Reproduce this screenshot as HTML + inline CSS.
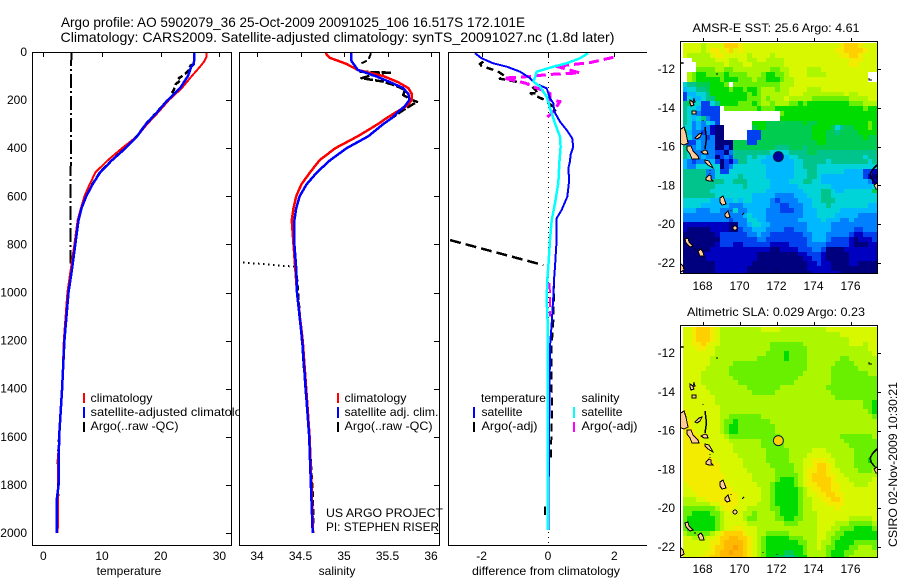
<!DOCTYPE html>
<html>
<head>
<meta charset="utf-8">
<title>Argo profile</title>
<style>
html,body{margin:0;padding:0;background:#fff;}
svg{display:block;}
text{font-family:"Liberation Sans",sans-serif;font-size:12px;fill:#000;}
.title{font-size:14px;}
.crisp{shape-rendering:crispEdges;}
</style>
</head>
<body>
<svg id="chart" width="900" height="580" viewBox="0 0 900 580" xmlns="http://www.w3.org/2000/svg">
<defs>
<clipPath id="clip-t"><rect x="33" y="53" width="198" height="492"/></clipPath>
<clipPath id="clip-s"><rect x="240" y="53" width="199" height="492"/></clipPath>
<clipPath id="clip-d"><rect x="449" y="53" width="198" height="492"/></clipPath>
<clipPath id="clip-m1"><rect x="681" y="42" width="196" height="231"/></clipPath>
<clipPath id="clip-m2"><rect x="681" y="326" width="196" height="231"/></clipPath>
<g id="coast" stroke="#000" stroke-width="1" fill="#ffcc99">
<path d="M680 63h4M682 62v2" fill="none"/>
<path d="M690 100l3 2 1-3 1 3-2 1 1 2-3 1-1-3z"/>
<path d="M692 111h4v3h-4z"/>
<path d="M677 131l4-2 3-2 2 6 2 10-4 2-5-2-2-2z"/>
<path d="M695 138l4-4 3-1-2 4-3 2z"/>
<path d="M705 127l1 8 0 7-1 7" fill="none" stroke-width="1.5"/>
<path d="M687 146l4 0 2 5 5 5 1 3-7 0-2-5-3-4z"/>
<path d="M701 152l4-2 2 1 1 3-4 0z"/>
<path d="M705 160l4 1 3 5 1 2-5-3-3-3z"/>
<path d="M710 170v1M710 173v1" fill="none"/>
<path d="M706 178l3-3 2 1 0 3 2 2-4 0-3-1z"/>
<path d="M720 198l3-2 2 5 1 3-4 1-2-3z"/>
<path d="M725 214l3-3 1 3 1 3-3 1-2-2z"/>
<path d="M731 210v1M742 215l2-2" fill="none"/>
<circle cx="735" cy="228" r="2"/>
<path d="M685 239l3-1 1 4 4 4-3 1-4-4z"/>
<path d="M694 249h2M698 251l3-2 2 3 1 4-4 0-1-2z"/>
<path d="M677 264l3-1 3 3 1 4-3 2-3-2z"/>
<path d="M877 165l-4 4-3 5 1 4 4 5" fill="none" stroke-width="1.5"/>
<path d="M874 185l3-2 2 2 0 4-3 0z"/>
<path d="M869 78v2h3M717 73v2M703 120v1M763 268v1M777 270v1" fill="none"/>
</g>
</defs>

<text class="title" x="61" y="27" textLength="464" lengthAdjust="spacingAndGlyphs">Argo profile: AO 5902079_36 25-Oct-2009 20091025_106 16.517S 172.101E</text>
<text class="title" x="60.5" y="42" textLength="554" lengthAdjust="spacingAndGlyphs">Climatology: CARS2009. Satellite-adjusted climatology: synTS_20091027.nc (1.8d later)</text>

<g id="panel-temperature">
<rect class="crisp" x="32.5" y="52.5" width="199" height="493" fill="#fff" stroke="#000"/>
<g id="marks-t" clip-path="url(#clip-t)"></g>
<g id="legend-t">
<rect class="crisp" x="83" y="393" width="2" height="10" fill="#ff0000"/>
<rect class="crisp" x="83" y="407" width="2" height="11" fill="#0000ff"/>
<rect class="crisp" x="83" y="422" width="2" height="10" fill="#000"/>
<text x="90.5" y="402" textLength="62" lengthAdjust="spacingAndGlyphs">climatology</text>
<text x="90.5" y="416" textLength="165" lengthAdjust="spacingAndGlyphs">satellite-adjusted climatology</text>
<text x="90.5" y="430" textLength="88" lengthAdjust="spacingAndGlyphs">Argo(..raw -QC)</text>
</g>
<text x="129" y="575" text-anchor="middle">temperature</text>
</g>

<g id="panel-salinity">
<rect class="crisp" x="239.5" y="52.5" width="200" height="493" fill="#fff" stroke="#000"/>
<g id="marks-s" clip-path="url(#clip-s)"></g>
<g>
<rect class="crisp" x="337" y="393" width="2" height="10" fill="#ff0000"/>
<rect class="crisp" x="337" y="407" width="2" height="11" fill="#0000ff"/>
<rect class="crisp" x="337" y="422" width="2" height="10" fill="#000"/>
<text x="344.5" y="402" textLength="62" lengthAdjust="spacingAndGlyphs">climatology</text>
<text x="344.5" y="416" textLength="94" lengthAdjust="spacingAndGlyphs">satellite adj. clim.</text>
<text x="344.5" y="430" textLength="88" lengthAdjust="spacingAndGlyphs">Argo(..raw -QC)</text>
</g>
<text x="326" y="517" textLength="117" lengthAdjust="spacingAndGlyphs">US ARGO PROJECT</text>
<text x="326" y="531" textLength="113" lengthAdjust="spacingAndGlyphs">PI: STEPHEN RISER</text>
<text x="337" y="575" text-anchor="middle">salinity</text>
</g>

<g id="panel-diff">
<path class="crisp" d="M647 52.5H448.5V545.5H647" fill="#fff" stroke="#000"/>
<g id="marks-d" clip-path="url(#clip-d)"></g>
<g>
<rect class="crisp" x="473" y="407" width="2" height="11" fill="#0000ff"/>
<rect class="crisp" x="473" y="422" width="2" height="10" fill="#000"/>
<rect class="crisp" x="573" y="407" width="2" height="11" fill="#00ffff"/>
<rect class="crisp" x="573" y="422" width="2" height="10" fill="#ff00ff"/>
<text x="481" y="402" textLength="65" lengthAdjust="spacingAndGlyphs">temperature</text>
<text x="481.5" y="416" textLength="41" lengthAdjust="spacingAndGlyphs">satellite</text>
<text x="481.5" y="430" textLength="56" lengthAdjust="spacingAndGlyphs">Argo(-adj)</text>
<text x="581.5" y="402" textLength="38" lengthAdjust="spacingAndGlyphs">salinity</text>
<text x="581.5" y="416" textLength="41" lengthAdjust="spacingAndGlyphs">satellite</text>
<text x="581.5" y="430" textLength="56" lengthAdjust="spacingAndGlyphs">Argo(-adj)</text>
</g>
<text x="546" y="575" text-anchor="middle" textLength="148" lengthAdjust="spacingAndGlyphs">difference from climatology</text>
</g>

<g id="map-sst">
<g id="cells-m1" class="crisp" clip-path="url(#clip-m1)"></g>
<use href="#coast" clip-path="url(#clip-m1)" class="crisp"/>
<g id="marker-m1"></g>
<rect class="crisp" x="680.5" y="41.5" width="197" height="232" fill="none" stroke="#000"/>
<g id="ticks-m1"></g>
<text x="776" y="32" text-anchor="middle" textLength="167" lengthAdjust="spacingAndGlyphs">AMSR-E SST: 25.6 Argo: 4.61</text>
</g>

<g id="map-sla">
<g id="cells-m2" class="crisp" clip-path="url(#clip-m2)"></g>
<g clip-path="url(#clip-m2)"><use href="#coast" y="284" class="crisp"/></g>
<g id="marker-m2"></g>
<rect class="crisp" x="680.5" y="325.5" width="197" height="232" fill="none" stroke="#000"/>
<g id="ticks-m2"></g>
<text x="776" y="316" text-anchor="middle" textLength="178" lengthAdjust="spacingAndGlyphs">Altimetric SLA: 0.029 Argo: 0.23</text>
</g>

<text transform="translate(897,547) rotate(-90)" textLength="165" lengthAdjust="spacingAndGlyphs">CSIRO 02-Nov-2009 10:30:21</text>
</svg>

<script>
// ---- axis tick values ----
var depthTicks = [0, 200, 400, 600, 800, 1000, 1200, 1400, 1600, 1800, 2000];
var tempTicks = [0, 10, 20, 30];
var salTicks = [34, 34.5, 35, 35.5, 36];
var salTickLabels = ['34', '34.5', '35', '35.5', '36'];
var diffTicks = [-2, 0, 2];
var lonTicks = [168, 170, 172, 174, 176];
var latTicks = [-12, -14, -16, -18, -20, -22];

// ---- temperature panel ----
var climDepth = [0, 20, 40, 61, 100, 150, 200, 250, 300, 350, 400, 450, 500, 550, 600, 650, 700, 800, 900, 1000, 1200, 1400, 1600, 1700, 1800, 2000];
var climTemp = [27.8, 27.8, 27.4, 26.7, 25.3, 23.6, 21.4, 19.6, 17.7, 16, 13.4, 11, 8.9, 7.9, 7, 6.4, 5.85, 5.3, 4.7, 4.1, 3.5, 3.2, 2.75, 2.45, 2.55, 2.45];
var satDepth = [0, 20, 50, 61, 100, 150, 200, 250, 300, 350, 400, 450, 500, 550, 600, 650, 700, 800, 900, 1000, 1200, 1400, 1600, 1800, 1860, 2000];
var satTemp = [25.7, 25.7, 25.65, 25.2, 24.65, 23.3, 21.2, 19.4, 17.5, 16, 14, 11.7, 9.7, 8.4, 7.3, 6.5, 6, 5.45, 4.9, 4.3, 3.6, 3.2, 2.7, 2.6, 2.3, 2.3];
var argoTempRawDepth = [0, 880];
var argoTempRaw = [4.77, 4.6];
var argoTempDepth = [50, 56, 66, 72, 94, 104, 108, 115, 135, 160, 180];
var argoTemp = [25.7, 25.1, 24.9, 25, 24, 23.4, 23.1, 23.5, 22.5, 22.2, 21.6];
var argoTempDeepDepth = [200, 250, 300, 350, 400, 450, 500, 550, 600, 650, 700, 800, 900, 1000, 1200, 1400, 1600, 1700, 1850, 2000];
var argoTempDeep = [21.1, 19.3, 17.4, 15.9, 13.9, 11.6, 9.6, 8.3, 7.2, 6.4, 5.9, 5.4, 4.85, 4.3, 3.6, 3.25, 2.65, 2.45, 2.55, 2.4];

// ---- salinity panel ----
var climSalDepth = [0, 10, 25, 35, 50, 75, 100, 125, 150, 175, 200, 225, 250, 275, 300, 350, 400, 450, 500, 550, 600, 650, 700, 800, 900, 1000, 1200, 1400, 1600, 1800, 2000];
var climSal = [34.79, 34.8, 34.84, 34.92, 35.03, 35.16, 35.45, 35.62, 35.74, 35.78, 35.78, 35.72, 35.6, 35.49, 35.39, 35.16, 34.9, 34.72, 34.61, 34.51, 34.45, 34.42, 34.4, 34.42, 34.44, 34.46, 34.525, 34.565, 34.605, 34.625, 34.645];
var satSalDepth = [0, 30, 40, 60, 75, 100, 125, 150, 175, 200, 225, 250, 275, 300, 350, 400, 450, 500, 550, 600, 650, 700, 800, 900, 1000, 1200, 1400, 1600, 1800, 2000];
var satSal = [35.08, 35.08, 35.09, 35.13, 35.16, 35.36, 35.53, 35.68, 35.74, 35.75, 35.7, 35.62, 35.55, 35.45, 35.28, 35.03, 34.84, 34.69, 34.57, 34.49, 34.45, 34.43, 34.43, 34.45, 34.46, 34.52, 34.56, 34.6, 34.62, 34.64];
var argoSalTopDepth = [5, 33, 47];
var argoSalTop = [35.31, 35.28, 35.2];
var argoSalDepth = [82, 86, 88, 109, 123, 141, 158, 179, 200, 207, 233, 269, 290];
var argoSal = [35.18, 35.55, 35.4, 35.2, 35.45, 35.6, 35.7, 35.68, 35.78, 35.84, 35.72, 35.57, 35.49];
var argoSalDotDepth = [875, 893];
var argoSalDot = [33.84, 34.44];
var argoSalDeepDepth = [893, 1000, 1300, 1700, 1850, 1960];
var argoSalDeep = [34.45, 34.475, 34.535, 34.62, 34.645, 34.65];

// ---- difference panel ----
var diffSatTempDepth = [5, 26, 47, 61, 82, 109, 130, 151, 193, 213, 248, 290, 324, 359, 394, 428, 456, 484, 532, 602, 657, 692, 782, 893, 948, 1017, 1128, 1225, 1503, 1988];
var diffSatTemp = [-2.2, -2, -1.65, -1.24, -0.84, -0.54, -0.39, -0.04, 0.06, 0.16, 0.19, 0.36, 0.56, 0.73, 0.76, 0.68, 0.66, 0.61, 0.64, 0.58, 0.41, 0.26, 0.26, 0.21, 0.18, 0.16, 0.11, 0.06, 0.04, 0.01];
var diffSatSalDepth = [5, 26, 47, 61, 82, 103, 123, 144, 186, 234, 297, 352, 394, 463, 546, 629, 699, 782, 893, 948, 1031, 1128, 1364, 1988];
var diffSatSal = [1.21, 0.96, 0.56, 0.16, -0.34, -0.39, -0.44, -0.24, -0.04, 0.06, 0.21, 0.36, 0.38, 0.34, 0.31, 0.21, 0.11, 0.06, 0.01, -0.02, -0.04, -0.01, -0.01, -0.01];
var diffArgoTempTopDepth = [40, 50, 58, 72, 77, 100, 111, 134, 172, 172, 197, 238, 248];
var diffArgoTempTop = [-1.95, -2.05, -2, -1.7, -1.55, -1.3, -1.45, -0.54, -0.29, -0.52, -0.14, 0.26, 0.16];
var diffArgoTempSlopeDepth = [782, 886];
var diffArgoTempSlope = [-2.95, -0.14];
var diffArgoTempDeepDepth = [950, 1100, 1250, 1500, 1700];
var diffArgoTempDeep = [0.18, 0.17, 0.1, 0.12, 0.08];
var diffArgoTempLowDepth = [1890, 1925];
var diffArgoTempLow = [-0.09, -0.09];
var diffArgoSalDepth = [22, 44, 58, 58, 87, 93, 105, 108, 129, 150, 172, 199, 206, 248, 271];
var diffArgoSal = [1.97, 1.27, 0.36, 0.2, 0.96, 0.06, -0.84, -1.35, -0.69, -0.33, 0.06, 0.06, 0.36, 0.16, -0.02];
var diffArgoSalDeepDepth = [960, 1100];
var diffArgoSalDeep = [0.05, 0.06];

// ---- float position ----
var floatLon = [172.101];
var floatLat = [-16.517];

// ---- map levels (colour index; -1 = no data) ----
var sstLevels = [
[11,11,11,11,10,11,11,11,11,13,13,13,12,11,11,11,11,11,11,11,11,11,11,11,11,11,11,11,11,11,11,11,11,11,12,13,13,13,12,11,11,11],
[11,11,11,11,10,11,12,12,11,12,13,11,12,11,11,11,11,11,11,11,11,11,11,11,11,11,11,11,11,11,11,11,11,12,12,13,13,13,13,12,11,11],
[11,10,10,10,10,10,11,12,12,11,11,11,11,11,10,11,11,11,11,10,11,11,11,11,11,11,11,11,11,11,11,11,11,11,12,12,13,13,12,11,11,11],
[-1,-1,10,10,10,10,10,11,11,11,10,10,11,11,10,10,11,11,10,10,10,10,11,11,11,11,11,11,11,11,11,11,11,11,11,11,12,12,12,11,11,11],
[-1,-1,-1,10,10,10,10,10,10,11,10,10,10,11,11,10,10,10,10,10,10,10,11,11,11,11,11,11,11,11,11,11,11,11,11,11,12,12,11,11,11,11],
[-1,-1,-1,9,9,9,9,10,10,9,9,10,10,10,10,10,10,10,10,9,9,10,10,11,11,11,11,10,10,10,11,11,11,11,11,11,11,11,11,11,11,11],
[-1,10,9,8,8,9,9,9,9,8,9,9,9,9,10,10,10,9,8,8,9,9,10,11,11,11,11,10,10,10,10,11,11,11,11,11,11,11,11,11,-1,-1],
[-1,10,9,8,8,8,8,8,9,8,8,8,9,9,9,10,9,9,8,8,8,9,10,10,11,11,11,11,11,11,11,11,11,11,11,11,11,11,11,11,-1,-1],
[5,6,6,7,7,7,8,8,8,9,-1,9,9,9,9,9,9,9,9,9,9,10,10,10,11,11,11,11,11,11,11,11,11,11,11,11,11,11,11,11,11,11],
[4,5,5,6,6,7,8,8,8,8,9,8,8,9,8,8,9,10,10,10,9,10,10,11,11,11,11,10,10,10,11,11,11,11,11,11,11,11,11,11,11,11],
[2,4,4,5,5,6,8,8,8,8,8,8,8,8,9,8,9,10,10,10,10,10,10,11,11,11,10,10,10,10,10,10,10,10,10,11,10,10,11,11,11,11],
[2,5,4,4,5,6,6,8,8,8,8,8,8,8,9,9,9,10,9,10,10,10,11,10,10,10,10,10,9,9,9,9,9,9,9,9,10,10,10,10,11,11],
[6,7,5,5,2,2,5,6,8,8,8,8,9,9,9,8,9,10,10,9,10,10,10,9,9,8,9,8,8,8,8,8,8,8,8,8,9,9,9,10,10,10],
[6,5,5,4,2,2,2,2,-1,9,9,9,9,9,9,9,8,9,9,9,8,8,8,8,8,8,8,8,8,8,8,8,8,8,8,8,8,8,8,9,8,8],
[6,5,4,3,2,2,2,2,-1,-1,-1,-1,-1,-1,-1,-1,-1,-1,-1,-1,-1,9,8,8,8,8,8,8,8,8,8,8,8,8,8,8,8,8,8,8,8,8],
[6,5,4,5,6,3,2,2,-1,-1,-1,-1,-1,-1,-1,-1,-1,-1,-1,-1,-1,8,8,8,8,8,8,8,8,8,8,8,8,8,8,8,8,8,8,8,8,8],
[6,5,3,4,3,5,4,2,-1,-1,-1,-1,-1,-1,-1,8,8,8,7,7,7,7,7,7,7,7,8,7,7,8,8,8,8,8,8,8,8,8,8,8,9,8],
[5,5,3,4,3,3,1,0,0,-1,-1,-1,-1,-1,-1,7,8,8,7,7,7,7,7,7,7,7,7,7,8,8,8,8,7,5,6,7,7,8,8,8,9,8],
[7,4,3,3,2,3,1,0,0,-1,-1,-1,-1,-1,2,2,2,7,7,7,7,7,7,7,7,7,7,7,8,8,8,7,7,6,7,7,7,7,8,8,8,8],
[7,5,3,3,3,2,3,0,0,-1,-1,-1,-1,-1,2,2,2,7,7,7,7,7,7,7,7,7,7,7,8,8,8,7,7,7,7,7,7,7,7,8,7,7],
[2,2,2,4,3,3,3,0,0,0,0,7,7,7,2,2,7,7,7,7,7,7,7,7,7,7,7,7,7,8,8,7,7,7,7,7,7,7,7,7,7,7],
[6,3,3,4,3,3,3,0,0,2,0,7,7,7,7,7,7,7,7,7,6,6,6,7,7,7,6,7,7,7,7,7,7,7,7,7,7,7,7,7,7,7],
[6,5,3,3,3,3,3,2,2,0,3,6,6,6,6,6,6,6,6,5,5,5,5,6,6,6,6,7,7,6,6,6,6,6,6,6,6,6,6,6,6,6],
[6,5,5,3,4,3,3,0,2,3,2,6,6,6,5,6,5,5,4,4,4,4,4,5,5,6,6,6,6,6,6,6,6,6,6,6,6,6,6,5,6,6],
[4,3,2,3,3,4,4,2,0,2,1,3,6,6,5,5,5,4,4,4,4,4,4,4,5,5,6,6,6,6,6,5,6,6,6,6,6,6,6,6,5,6],
[4,3,3,5,5,5,5,5,0,2,3,5,5,5,5,5,5,5,4,4,4,4,4,4,5,5,6,6,6,5,5,5,5,5,5,5,5,5,5,5,5,5],
[6,6,6,6,6,3,3,5,2,2,5,5,5,5,5,5,5,5,4,4,4,4,4,4,5,5,5,6,6,5,5,5,5,5,5,4,4,4,4,2,2,1],
[6,6,6,6,6,3,3,5,5,5,5,5,6,5,5,5,5,5,4,4,4,4,4,4,5,5,5,6,6,5,4,4,4,4,4,4,4,4,4,2,1,0],
[6,6,6,6,6,6,6,6,6,5,5,6,6,6,5,5,5,5,5,4,4,4,4,5,5,5,6,6,5,5,4,4,4,4,4,4,4,4,4,4,3,1],
[6,6,6,6,6,6,6,5,5,5,5,5,5,6,5,5,5,5,5,4,4,4,4,4,4,5,5,5,5,5,5,5,4,4,4,4,4,4,4,4,4,5],
[6,6,6,6,6,6,5,5,5,5,5,5,5,5,5,5,5,5,4,4,4,4,4,4,4,4,5,5,5,5,6,6,5,4,4,5,5,5,5,5,5,7],
[6,6,6,6,6,6,6,5,5,5,5,5,5,5,5,4,4,4,4,4,3,3,3,3,4,4,4,5,5,5,6,6,5,5,5,5,5,5,5,5,5,5],
[5,5,5,5,5,5,4,4,4,4,4,5,4,5,5,4,4,4,4,3,2,3,3,3,3,4,4,4,5,5,6,6,6,5,5,5,5,5,5,5,5,5],
[5,5,5,5,4,4,4,4,4,4,3,3,3,4,4,4,4,4,4,3,3,2,2,3,3,3,4,4,5,5,5,6,5,5,5,5,5,5,5,5,4,4],
[4,4,4,3,3,3,4,4,3,3,3,5,3,3,4,4,4,4,3,3,3,2,2,2,3,3,4,4,4,5,5,5,5,5,4,4,4,4,4,4,4,4],
[3,3,3,3,3,3,3,3,3,3,3,3,3,4,5,4,4,4,3,3,3,3,3,3,3,3,4,4,4,5,5,5,5,4,4,4,4,4,3,3,3,3],
[3,3,3,3,3,3,3,3,3,3,2,3,3,3,5,5,4,4,3,3,3,3,3,3,3,4,4,4,4,4,5,4,4,4,3,3,4,3,3,3,3,3],
[1,1,1,1,1,1,1,1,1,1,0,0,3,3,4,5,5,4,4,3,3,3,3,3,3,3,3,4,4,4,4,4,3,3,3,3,3,3,3,3,3,3],
[1,0,0,0,0,0,1,1,1,1,0,0,2,3,3,4,4,4,3,3,3,3,2,2,3,3,3,4,4,4,4,4,3,3,3,3,3,2,2,3,3,3],
[0,0,0,0,0,0,0,1,2,2,2,2,2,2,3,3,4,3,3,2,2,2,2,2,2,2,3,3,4,4,4,3,3,3,3,3,2,1,1,2,2,2],
[0,0,0,0,0,0,0,0,2,2,2,2,2,2,2,2,3,3,2,2,2,2,2,2,2,2,2,3,4,4,4,3,2,2,2,2,1,0,1,1,1,2],
[0,0,0,0,0,0,0,1,2,2,2,1,1,2,2,2,2,2,2,1,1,1,1,2,2,2,2,3,3,3,3,2,2,2,2,2,1,0,0,0,1,1],
[0,0,0,0,0,0,1,1,1,1,1,1,1,1,1,1,1,1,1,0,0,1,1,1,1,2,2,2,3,3,2,0,0,0,0,1,1,1,1,1,1,1],
[0,0,0,0,1,1,1,1,1,1,1,1,1,1,1,1,0,0,0,0,0,0,0,0,0,1,1,2,2,2,1,0,0,0,0,0,1,1,1,1,1,1],
[0,0,0,0,0,1,1,1,1,1,1,1,1,1,1,1,0,0,0,0,0,0,0,0,0,0,1,1,2,2,1,0,0,0,0,0,1,1,1,1,1,1],
[0,0,0,0,0,0,0,1,1,1,1,1,1,1,1,0,0,0,0,0,0,0,0,0,0,0,0,1,1,2,1,1,0,0,0,0,1,1,0,0,0,0],
[0,0,0,0,0,0,0,1,1,1,1,1,1,1,0,0,0,0,0,0,0,0,0,0,0,0,0,1,1,1,1,1,0,0,0,0,0,0,0,0,0,0],
[0,0,0,0,0,0,0,1,1,1,1,1,1,1,0,0,0,0,0,0,0,0,0,0,0,0,0,0,1,1,1,1,1,1,0,0,0,0,0,0,0,0]
];
var slaLevels = [
[11,11,12,13,13,13,12,11,10,10,10,10,10,10,10,10,10,11,11,11,11,10,10,10,10,10,10,10,10,10,10,11,11,11,11,11,11,11,11,11,11,11],
[11,11,12,13,13,13,12,11,10,10,10,10,10,10,10,10,10,10,10,10,10,10,10,10,10,10,10,10,10,10,10,10,10,10,11,11,11,11,11,11,11,11],
[11,11,12,13,13,13,12,11,10,10,10,10,10,10,10,10,10,10,10,10,10,10,10,10,10,10,10,10,10,10,10,10,10,10,10,10,11,11,11,11,11,11],
[11,11,12,12,13,12,11,11,10,10,10,10,10,10,10,10,10,10,10,9,9,9,9,9,9,9,10,10,10,10,10,10,10,10,10,10,11,11,11,10,11,11],
[11,11,11,12,12,11,11,10,10,10,10,10,10,10,10,10,10,10,10,9,9,9,9,9,9,9,9,10,10,10,10,10,10,10,10,10,10,10,10,10,11,11],
[11,11,11,11,11,11,11,10,10,10,10,10,10,10,10,10,10,10,9,9,9,9,8,9,9,9,9,10,10,10,10,10,10,10,10,10,10,10,10,10,10,11],
[11,11,11,11,11,11,10,10,10,10,10,10,10,10,10,10,9,9,9,9,9,9,8,9,9,9,9,10,10,10,10,10,10,10,9,9,10,10,10,10,10,10],
[11,11,11,11,11,11,10,10,10,10,10,9,9,9,9,9,9,9,9,9,9,9,9,9,9,9,9,10,10,10,10,10,10,9,9,9,9,10,10,10,10,10],
[11,11,11,11,11,10,10,10,10,10,9,9,9,9,9,9,9,9,9,9,9,9,9,9,9,9,9,10,10,10,10,10,9,9,9,9,9,9,10,10,10,10],
[11,11,11,11,10,10,10,10,10,10,9,9,9,9,9,9,9,9,9,9,9,9,9,9,9,9,10,10,10,10,10,10,9,9,9,9,9,9,9,9,10,10],
[11,11,11,11,10,10,10,10,10,10,10,9,9,9,9,9,9,9,9,9,9,9,9,9,9,10,10,10,10,10,10,10,9,9,9,9,9,9,9,9,9,9],
[11,11,11,11,10,10,10,10,10,10,10,10,9,9,9,9,9,9,9,9,9,9,9,9,10,10,10,10,10,10,10,10,9,9,9,9,9,9,9,9,9,9],
[11,11,11,11,11,10,10,10,10,10,10,10,10,10,9,9,9,9,9,9,9,10,10,10,10,10,10,10,10,10,10,9,9,9,9,9,9,9,9,9,9,9],
[11,11,11,11,11,11,10,10,10,10,10,10,10,10,10,9,9,9,9,9,10,10,10,10,10,10,10,10,10,10,10,10,9,9,9,9,9,9,9,9,9,9],
[11,11,11,11,11,11,11,10,10,10,10,10,10,10,10,10,10,10,10,10,10,10,10,10,10,10,10,10,10,10,10,10,10,9,9,9,9,9,9,9,9,9],
[11,11,11,11,11,11,11,10,10,10,10,10,10,10,10,10,10,10,10,10,10,10,10,10,10,10,10,10,10,10,10,10,10,10,10,10,10,10,10,9,9,8],
[11,11,11,11,11,11,11,11,10,10,10,10,10,10,10,10,10,10,10,10,10,10,10,10,10,10,10,10,10,10,10,10,10,10,10,10,10,10,10,9,9,8],
[12,11,11,11,11,11,11,11,10,10,10,10,10,10,10,10,10,10,10,10,10,10,10,10,10,10,10,10,10,10,10,10,10,10,10,10,10,10,10,10,9,8],
[12,11,11,11,11,11,11,11,10,10,9,9,9,9,9,9,9,10,10,10,10,10,10,10,10,10,10,10,10,10,10,10,10,10,10,10,10,10,10,10,10,9],
[12,12,11,11,11,11,11,11,10,9,9,8,9,9,9,9,9,9,9,10,10,10,10,10,10,10,10,10,10,10,10,10,10,10,10,10,10,10,10,10,10,10],
[12,12,11,11,11,11,11,11,10,9,8,8,9,9,9,9,9,9,9,9,10,10,10,10,10,10,10,10,10,10,10,10,10,10,10,10,10,10,10,10,10,10],
[12,12,12,11,11,11,11,11,10,9,8,8,9,9,9,9,9,9,9,9,10,10,10,10,10,10,10,10,10,10,10,10,10,10,10,10,10,10,10,10,10,10],
[12,12,12,12,11,11,11,11,11,10,9,9,9,9,9,9,9,9,9,9,9,10,10,10,10,10,10,10,10,10,10,10,10,10,9,9,9,9,9,9,9,10],
[12,12,12,12,11,11,11,11,11,11,10,10,10,10,10,10,10,9,9,9,9,9,10,10,10,10,10,10,10,10,10,10,10,10,10,9,9,9,9,9,9,9],
[12,12,12,12,12,11,11,11,11,11,11,10,10,10,10,10,10,9,9,9,9,9,10,10,10,10,10,10,10,10,10,10,10,10,10,10,9,9,9,9,9,9],
[12,12,12,12,12,12,11,11,11,11,11,10,10,10,10,10,10,10,9,9,9,9,9,10,10,10,10,10,11,11,11,10,10,10,10,10,10,9,9,9,9,9],
[12,12,12,12,12,12,11,11,11,11,11,11,10,10,10,10,10,10,9,9,9,9,9,10,10,10,10,11,11,11,11,11,10,10,10,10,10,9,9,9,9,9],
[12,12,12,12,12,12,12,11,11,11,11,11,11,10,10,10,10,10,9,9,9,9,9,10,10,10,11,11,12,12,12,11,11,10,10,10,10,9,9,9,8,9],
[12,12,12,12,12,12,12,12,11,11,11,11,11,10,10,10,10,10,10,9,9,9,9,9,10,10,11,11,12,13,13,12,11,10,10,10,10,9,9,9,9,9],
[12,12,12,12,12,12,12,12,11,11,11,11,11,11,10,10,10,10,10,10,9,9,9,9,10,10,11,12,12,13,13,12,11,11,10,10,10,10,9,9,9,10],
[12,12,12,12,12,12,12,12,12,11,11,11,11,11,11,10,10,10,10,10,9,9,9,9,9,10,11,12,13,13,13,12,12,11,11,10,10,10,10,10,10,10],
[12,12,12,12,12,12,12,12,12,11,11,11,11,11,11,10,10,10,10,10,9,8,8,8,9,10,11,12,13,13,13,13,12,11,11,11,10,10,10,10,10,11],
[11,12,12,12,12,12,12,12,12,12,11,11,11,11,11,11,10,10,10,9,8,8,8,8,9,10,11,12,12,13,13,13,12,12,11,11,11,10,10,10,11,11],
[11,11,12,12,12,12,12,12,12,12,12,11,11,11,11,11,11,10,10,9,8,8,8,8,8,9,10,11,12,12,13,13,12,12,11,11,11,11,11,11,11,11],
[11,11,11,12,12,12,12,12,12,12,12,12,11,11,11,11,11,10,10,9,8,8,8,8,8,9,10,11,11,12,12,13,13,12,12,11,11,11,11,11,11,11],
[10,10,10,11,11,12,12,12,12,12,12,12,11,11,11,11,11,10,10,9,8,8,8,8,8,9,10,10,11,11,12,12,13,13,12,11,11,11,11,11,11,11],
[10,10,10,10,10,10,11,11,12,12,12,12,11,11,11,11,10,10,10,9,8,8,8,8,8,9,10,10,11,11,11,12,12,12,12,11,11,11,11,11,11,11],
[9,9,9,9,9,9,9,10,11,12,12,11,11,11,10,10,10,10,10,9,9,8,8,8,8,9,10,10,11,11,11,11,11,12,11,11,11,11,11,11,11,11],
[9,9,8,8,8,8,9,9,10,11,11,11,11,10,10,9,10,10,10,10,9,8,8,8,8,9,10,10,10,11,11,11,11,11,11,11,11,11,11,11,11,11],
[9,8,8,8,8,8,8,9,10,11,11,11,11,10,9,9,10,10,10,10,9,9,8,8,9,9,10,10,10,11,11,11,11,11,11,11,10,10,10,10,10,11],
[9,8,8,8,8,8,8,9,10,11,11,11,11,11,10,10,10,10,10,10,10,10,9,9,9,10,10,10,10,11,11,11,11,10,10,10,9,9,9,9,9,10],
[9,8,8,8,8,8,8,9,10,11,11,12,12,11,11,11,10,10,10,10,10,10,10,10,10,10,10,10,10,11,11,11,10,10,9,9,9,8,8,8,8,9],
[10,9,9,9,9,9,10,11,12,13,13,13,13,12,11,11,10,10,9,9,9,9,9,10,10,10,10,10,10,11,11,10,10,9,9,8,8,8,8,8,8,8],
[11,11,10,10,10,11,11,12,13,13,14,14,13,13,12,11,10,9,8,8,8,8,8,9,9,9,10,10,10,11,11,10,9,9,8,8,8,8,8,8,8,8],
[11,11,11,11,11,11,12,12,13,14,14,14,14,13,12,11,10,9,8,8,8,8,8,8,8,9,9,10,10,11,10,10,9,8,8,8,8,9,9,9,9,9],
[11,11,11,11,11,11,12,13,13,14,14,15,14,13,12,11,10,9,8,8,8,8,8,8,8,8,9,10,10,11,10,9,9,8,8,8,9,9,10,10,10,9],
[11,11,11,11,11,12,12,13,14,14,15,14,14,13,12,11,10,9,8,8,8,8,7,7,8,8,9,10,10,10,10,9,8,8,8,9,9,10,10,10,10,10],
[11,11,11,11,12,12,13,13,14,14,14,14,14,13,12,11,10,9,8,8,7,7,6,6,7,8,8,10,10,10,10,9,8,8,8,9,10,10,10,10,10,10]
];
var paletteColors = ['#00007f','#0000c0','#0040ee','#0080ff','#00b8ff','#00d4d8','#00c48c','#00cc50','#00dc00','#68f000','#acf600','#d8f800','#f4ec00','#ffd000','#ffb800','#ffa000'];

// ---- axis functions ----
function depthY(d) { return 52 + 0.2405 * d; }
function tempX(t) { return 43.3 + 5.87 * t; }
function salX(s) { return 257 + 87 * (s - 34); }
function diffX(v) { return 548 + 33.2 * v; }
function lonX(lon) { return 702.5 + 18.5 * (lon - 168); }
function latY(lat, offset) { return 69 + offset + 19.4 * (-12 - lat); }

var SVGNS = 'http://www.w3.org/2000/svg';
var root = document.getElementById('chart');

function mk(tag, parent) {
  var el = document.createElementNS(SVGNS, tag);
  parent.appendChild(el);
  return el;
}

function drawLine(groupId, xFn, vals, depths, color, width, dash, name) {
  var g = document.getElementById(groupId);
  var p = mk('path', g);
  var d = '';
  for (var i = 0; i < vals.length; i++) {
    d += (i ? 'L' : 'M') + xFn(vals[i]).toFixed(1) + ' ' + depthY(depths[i]).toFixed(1);
  }
  p.setAttribute('d', d);
  p.setAttribute('fill', 'none');
  p.setAttribute('stroke', color);
  p.setAttribute('stroke-width', width);
  p.setAttribute('stroke-linejoin', 'round');
  p.setAttribute('shape-rendering', 'crispEdges');
  if (dash) p.setAttribute('stroke-dasharray', dash);
  
  
}

// temperature series
drawLine('marks-t', tempX, argoTempRaw, argoTempRawDepth, '#000', 2, '14 3 2 3', 'argo-temperature-raw-line');
drawLine('marks-t', tempX, argoTemp, argoTempDepth, '#000', 2.5, '6 3', 'argo-temperature-line');
drawLine('marks-t', tempX, argoTempDeep, argoTempDeepDepth, '#000', 2, '6 3', 'argo-temperature-deep-line');
drawLine('marks-t', tempX, climTemp, climDepth, '#ff0000', 2, null, 'climatology-temperature-line');
drawLine('marks-t', tempX, satTemp, satDepth, '#0000ff', 2.5, null, 'satellite-temperature-line');

// salinity series
drawLine('marks-s', salX, argoSalTop, argoSalTopDepth, '#000', 2, '6 3', 'argo-salinity-top-line');
drawLine('marks-s', salX, argoSal, argoSalDepth, '#000', 2.5, '9 2', 'argo-salinity-line');
drawLine('marks-s', salX, argoSalDot, argoSalDotDepth, '#000', 2, '1.5 3.5', 'argo-salinity-dotted-line');
drawLine('marks-s', salX, argoSalDeep, argoSalDeepDepth, '#000', 2, '6 3', 'argo-salinity-deep-line');
drawLine('marks-s', salX, climSal, climSalDepth, '#ff0000', 2.5, null, 'climatology-salinity-line');
drawLine('marks-s', salX, satSal, satSalDepth, '#0000ff', 2.5, null, 'satellite-salinity-line');

// zero reference of difference panel
var zeroLine = mk('line', document.getElementById('marks-d'));
zeroLine.setAttribute('x1', diffX(0) + 0.5);
zeroLine.setAttribute('x2', diffX(0) + 0.5);
zeroLine.setAttribute('y1', 52);
zeroLine.setAttribute('y2', 545);
zeroLine.setAttribute('stroke', '#000');
zeroLine.setAttribute('stroke-dasharray', '1 4');
zeroLine.setAttribute('shape-rendering', 'crispEdges');



// difference series
drawLine('marks-d', diffX, diffArgoTempTop, diffArgoTempTopDepth, '#000', 2.5, '7 5', 'diff-argo-temperature-top-line');
drawLine('marks-d', diffX, diffArgoTempSlope, diffArgoTempSlopeDepth, '#000', 2.5, '11 5', 'diff-argo-temperature-slope-line');
drawLine('marks-d', diffX, diffArgoTempDeep, diffArgoTempDeepDepth, '#000', 2, '8 5', 'diff-argo-temperature-deep-line');
drawLine('marks-d', diffX, diffArgoTempLow, diffArgoTempLowDepth, '#000', 2, null, 'diff-argo-temperature-low-line');
drawLine('marks-d', diffX, diffArgoSal, diffArgoSalDepth, '#ff00ff', 3, '10 5', 'diff-argo-salinity-line');
drawLine('marks-d', diffX, diffSatTemp, diffSatTempDepth, '#0000ff', 2, null, 'diff-satellite-temperature-line');
drawLine('marks-d', diffX, diffSatSal, diffSatSalDepth, '#00ffff', 2.5, null, 'diff-satellite-salinity-line');
drawLine('marks-d', diffX, diffArgoSalDeep, diffArgoSalDeepDepth, '#ff00ff', 2, '10 4', 'diff-argo-salinity-deep-line');

// panel x ticks and labels
function drawXTicks(vals, labels, xFn, name) {
  for (var i = 0; i < vals.length; i++) {
    var x = Math.round(xFn(vals[i])) + 0.5;
    var t = mk('line', root);
    t.setAttribute('x1', x);
    t.setAttribute('x2', x);
    t.setAttribute('y1', 52);
    t.setAttribute('y2', 57);
    t.setAttribute('stroke', '#000');
    t.setAttribute('shape-rendering', 'crispEdges');
    
    
    var l = mk('text', root);
    l.setAttribute('x', xFn(vals[i]));
    l.setAttribute('y', 560);
    l.setAttribute('text-anchor', 'middle');
    l.textContent = labels[i];
    
    
  }
}
drawXTicks(tempTicks, tempTicks, tempX, 'temperature-x');
drawXTicks(salTicks, salTickLabels, salX, 'salinity-x');
drawXTicks(diffTicks, diffTicks, diffX, 'difference-x');

// depth axis ticks and labels
depthTicks.forEach(function (d) {
  var y = Math.round(depthY(d)) + 0.5;
  [231, 439].forEach(function (edge) {
    var t = mk('line', root);
    t.setAttribute('x1', edge - 5);
    t.setAttribute('x2', edge);
    t.setAttribute('y1', y);
    t.setAttribute('y2', y);
    t.setAttribute('stroke', '#000');
    t.setAttribute('shape-rendering', 'crispEdges');
    
    
  });
  var l = mk('text', root);
  l.setAttribute('x', 27);
  l.setAttribute('y', depthY(d) + 4);
  l.setAttribute('text-anchor', 'end');
  l.textContent = d;
  
  
});

// heatmap cells
var lonStart = 166.92;
var latStart = -10.66;
function drawCells(groupId, levels, offset, name) {
  var g = document.getElementById(groupId);
  for (var r = 0; r < levels.length; r++) {
    for (var c = 0; c < levels[r].length; c++) {
      var v = levels[r][c];
      if (v < 0) continue;
      var x0 = Math.round(lonX(lonStart + c * 0.25));
      var x1 = Math.round(lonX(lonStart + (c + 1) * 0.25));
      var y0 = Math.round(latY(latStart - r * 0.25, offset));
      var y1 = Math.round(latY(latStart - (r + 1) * 0.25, offset));
      var cell = mk('rect', g);
      cell.setAttribute('x', x0);
      cell.setAttribute('y', y0);
      cell.setAttribute('width', x1 - x0);
      cell.setAttribute('height', y1 - y0);
      cell.setAttribute('fill', paletteColors[v]);
      
      
    }
  }
}
drawCells('cells-m1', sstLevels, 0, 'sst-cell');
drawCells('cells-m2', slaLevels, 284, 'sla-cell');

// float markers
function drawMarker(groupId, offset, fill, name) {
  var g = document.getElementById(groupId);
  var m = mk('circle', g);
  m.setAttribute('cx', lonX(floatLon[0]));
  m.setAttribute('cy', latY(floatLat[0], offset));
  m.setAttribute('r', 5);
  m.setAttribute('fill', fill);
  m.setAttribute('stroke', '#002040');
  m.setAttribute('stroke-width', 1);
  
  
}
drawMarker('marker-m1', 0, '#00009a', 'sst-float-marker');
drawMarker('marker-m2', 284, '#ffd000', 'sla-float-marker');

// map ticks and labels
function drawMapAxes(groupId, offset, boxTop, labelY) {
  var g = document.getElementById(groupId);
  lonTicks.forEach(function (lon) {
    var x = Math.round(lonX(lon)) + 0.5;
    var t = mk('line', g);
    t.setAttribute('x1', x);
    t.setAttribute('x2', x);
    t.setAttribute('y1', boxTop - 3);
    t.setAttribute('y2', boxTop);
    t.setAttribute('stroke', '#000');
    t.setAttribute('shape-rendering', 'crispEdges');
    
    
    var l = mk('text', g);
    l.setAttribute('x', lonX(lon));
    l.setAttribute('y', labelY);
    l.setAttribute('text-anchor', 'middle');
    l.textContent = lon;
    
    
  });
  latTicks.forEach(function (lat) {
    var y = Math.round(latY(lat, offset)) + 0.5;
    var t = mk('line', g);
    t.setAttribute('x1', 877);
    t.setAttribute('x2', 881);
    t.setAttribute('y1', y);
    t.setAttribute('y2', y);
    t.setAttribute('stroke', '#000');
    t.setAttribute('shape-rendering', 'crispEdges');
    
    
    var l = mk('text', g);
    l.setAttribute('x', 675);
    l.setAttribute('y', latY(lat, offset) + 4);
    l.setAttribute('text-anchor', 'end');
    l.textContent = lat;
    
    
  });
}
drawMapAxes('ticks-m1', 0, 41, 290);
drawMapAxes('ticks-m2', 284, 325, 573);
</script>
</body>
</html>
